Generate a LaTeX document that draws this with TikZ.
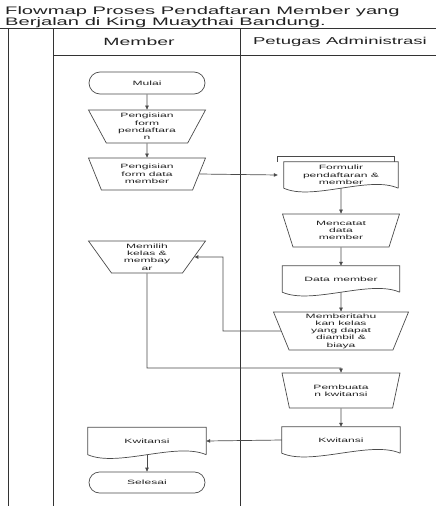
\documentclass[tikz,border=0pt]{standalone}
\usepackage{fontspec}
\newfontfamily\widesf[FakeStretch=1.85]{Liberation Sans}
\newfontfamily\boxsf[FakeStretch=1.95]{Liberation Sans}
\usetikzlibrary{arrows.meta, shapes.geometric, shapes.misc, calc}
\definecolor{linegray}{HTML}{4A4A4A}
\definecolor{textgray}{HTML}{222222}
\definecolor{lanegray}{HTML}{333333}

% bentuk dokumen (bawah bergelombang)
\newcommand{\docoutline}[1]{%
  \draw[linegray, line width=0.7pt] (#1.south east) -- (#1.north east) -- (#1.north west) -- (#1.south west)
    .. controls ($(#1.south west)!0.5!(#1.south)+(0,-13)$) and ($(#1.south)!0.5!(#1.south east)+(0,13)$) .. (#1.south east);}

\begin{document}
\begin{tikzpicture}[x=1pt, y=1pt,
    lane/.style={draw=lanegray, line width=0.9pt},
    boxtext/.style={font=\boxsf\fontsize{6.2}{7.3}\selectfont, text=textgray, align=center, inner sep=0pt},
    termbox/.style={boxtext, rounded rectangle, draw=linegray, line width=0.7pt, minimum width=116pt, minimum height=22pt},
    manop/.style={boxtext, trapezium, trapezium stretches body, shape border rotate=180, draw=linegray, line width=0.7pt, minimum width=117pt},
    docbox/.style={boxtext, rectangle, minimum width=117pt},
    flow/.style={draw=linegray, line width=0.7pt, -{Triangle[length=4pt, width=3.5pt]}},
    link/.style={draw=linegray, line width=0.7pt}]
  \useasboundingbox (0,0) rectangle (441,-506);

  % Judul
  \node[anchor=north west, align=left, inner sep=0pt, text=textgray, font=\widesf\fontsize{10.9}{11.2}\selectfont] (judul) at (5,-6.5) {Flowmap Proses Pendaftaran Member yang\\Berjalan di King Muaythai Bandung.};

  % Swimlane
  \draw[lane] (0,-28) -- (436,-28);
  \draw[lane] (8,-28) -- (8,-506);
  \draw[lane] (53,-28) -- (53,-506);
  \draw[lane] (240,-28) -- (240,-506);
  \draw[lane] (53,-55) -- (436,-55);
  \node[text=textgray, font=\widesf\fontsize{10.5}{12}\selectfont] (lanemember) at (139,-42) {Member};
  \node[text=textgray, font=\widesf\fontsize{10}{12}\selectfont] (lanepetugas) at (340,-42) {Petugas Administrasi};

  % Member
  \node[termbox] (mulai) at (147,-83) {Mulai};
  \node[manop, trapezium angle=56, minimum height=33pt] (isiform) at (147,-126.5) {Pengisian\\form\\pendaftara\\n};
  \node[manop, trapezium angle=56, minimum height=32pt] (isidata) at (147,-174) {Pengisian\\form data\\member};
  \node[manop, trapezium angle=49, minimum height=32pt] (memilih) at (147,-257) {Memilih\\kelas \&\\membay\\ar};
  \node[docbox, minimum width=118pt, minimum height=27pt] (kwitansimem) at (147,-441) {Kwitansi};
  \node[termbox, minimum height=21pt] (selesai) at (147,-482.5) {Selesai};

  % Petugas Administrasi
  \node[docbox, minimum width=114pt, minimum height=26pt] (formulir) at (341,-175) {Formulir\\pendaftaran \&\\member};
  \node[manop, trapezium angle=61, minimum height=33pt] (mencatat) at (341,-230.5) {Mencatat\\data\\member};
  \node[docbox, minimum height=26pt] (datamember) at (341,-279) {Data member};
  \node[manop, trapezium angle=66, minimum width=135pt, minimum height=38pt] (beritahu) at (341,-331) {Memberitahu\\kan kelas\\yang dapat\\diambil \&\\biaya};
  \node[manop, trapezium angle=58, minimum width=118pt, minimum height=35pt] (pembuatan) at (341,-390.5) {Pembuata\\n kwitansi};
  \node[docbox, minimum width=118pt, minimum height=26pt] (kwitansiadm) at (341,-440) {Kwitansi};

  % Dokumen
  \docoutline{formulir}
  \draw[link] ([xshift=-6pt]formulir.north west) -- ++(0,5) -- ([shift={(-4,5)}]formulir.north east) -- ++(0,-5);
  \docoutline{datamember}
  \docoutline{kwitansiadm}
  \docoutline{kwitansimem}

  % Alur
  \coordinate (bendup) at (223,-331);
  \coordinate (benddown) at (147,-368);
  \draw[flow] (mulai) -- (isiform);
  \draw[flow] (isiform) -- (isidata);
  \draw[flow] (isidata.east) -- ([xshift=-6pt]formulir.west);
  \draw[flow] (formulir.south) -- (mencatat.north);
  \draw[flow] (mencatat) -- (datamember);
  \draw[flow] (datamember.south) -- (beritahu.north);
  \draw[flow] (beritahu.west) -- (bendup) |- (memilih.east);
  \draw[flow] (memilih.south) -- (benddown) -| (pembuatan.north);
  \draw[flow] (pembuatan) -- (kwitansiadm);
  \draw[flow] (kwitansiadm.west) -- (kwitansimem.east);
  \draw[flow] (kwitansimem.south) -- (selesai.north);
\end{tikzpicture}
\end{document}
